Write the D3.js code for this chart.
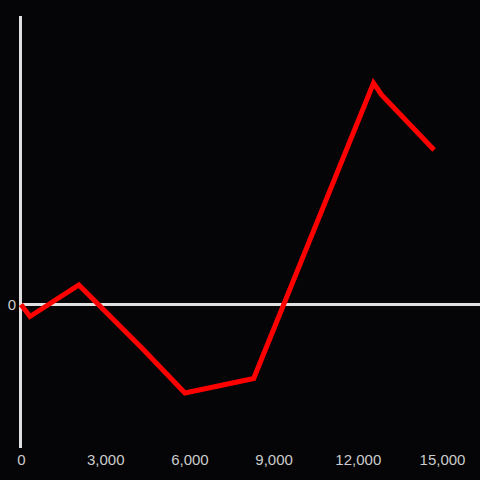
<!DOCTYPE html>
<html>
<head>
<meta charset="utf-8">
<script src="https://cdn.jsdelivr.net/npm/d3@7/dist/d3.min.js"></script>
<style>
html,body{margin:0;padding:0;background:#050407;}
svg{display:block;}
</style>
</head>
<body>
<svg id="chart" width="480" height="480"></svg>
<script>
const xValues = [0, 320, 2060, 4340, 5840, 8290, 12560, 12850, 14720];
const yValues = [0, -120, 195, -445, -885, -740, 2215, 2095, 1545];
const xTicks = [0, 3000, 6000, 9000, 12000, 15000];
const yTicks = [0];

const svg = d3.select("#chart");
svg.append("rect").attr("width",480).attr("height",480).attr("fill","#050407");

const x = d3.scaleLinear().domain([0, 15000]).range([21, 442]);
const y = d3.scaleLinear().domain([-1435, 2885]).range([448, 16]);

// y axis line
svg.append("line")
  .attr("x1", 20.5).attr("x2", 20.5)
  .attr("y1", y(2885)).attr("y2", y(-1435))
  .attr("stroke", "#e0e0e0").attr("stroke-width", 3);

// zero line
svg.append("line")
  .attr("x1", 20).attr("x2", 480)
  .attr("y1", y(0)).attr("y2", y(0))
  .attr("stroke", "#e0e0e0").attr("stroke-width", 3);

// x tick labels
const xAxis = d3.axisBottom(x).tickValues(xTicks).tickSize(0).tickFormat(d3.format(","));
const gx = svg.append("g").attr("transform", "translate(0,451)").call(xAxis);
gx.select(".domain").remove();
gx.selectAll("text")
  .attr("fill", "#cccccc")
  .style("font-family", "'Liberation Sans', Arial, sans-serif")
  .style("font-size", "15px");

// y tick labels
const yAxis = d3.axisLeft(y).tickValues(yTicks).tickSize(0);
const gy = svg.append("g").attr("transform", "translate(16,0)").call(yAxis);
gy.select(".domain").remove();
gy.selectAll("text")
  .attr("fill", "#cccccc")
  .attr("x", 0)
  .style("font-family", "'Liberation Sans', Arial, sans-serif")
  .style("font-size", "15px");

// data line
const data = xValues.map((v, i) => [v, yValues[i]]);
svg.append("path")
  .datum(data)
  .attr("fill", "none")
  .attr("stroke", "#ff0000")
  .attr("stroke-width", 5)
  .attr("stroke-linejoin", "miter")
  .attr("d", d3.line().x(d => x(d[0])).y(d => y(d[1])));
</script>
</body>
</html>
